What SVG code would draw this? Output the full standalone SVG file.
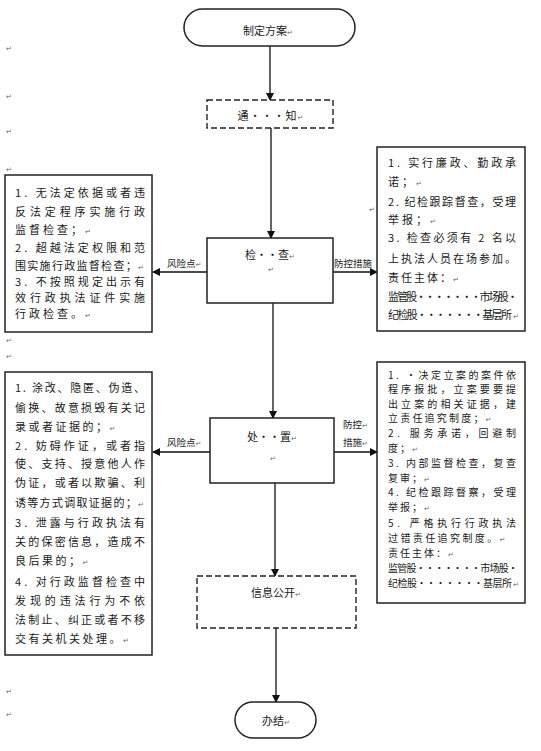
<svg xmlns="http://www.w3.org/2000/svg" width="541" height="751" viewBox="0 0 541 751">
<defs>
<marker id="ah" markerWidth="8" markerHeight="8" refX="7" refY="4" orient="auto" markerUnits="userSpaceOnUse">
<path d="M0,0 L8,4 L0,8 Z" fill="#111"/>
</marker>
<style>
.t{font-family:"Noto Sans CJK SC","Liberation Sans",sans-serif;font-size:11px;fill:#1a1a1a;}
.c{text-anchor:middle;}
.s{font-size:9.5px;}
.r2{font-size:10px;}
.pm{font-family:"DejaVu Sans",sans-serif;font-size:7px;fill:#666;}
.box{fill:#fff;stroke:#222;stroke-width:1.5;}
.dash{fill:#fff;stroke:#222;stroke-width:1.4;stroke-dasharray:6 3;}
.ln{stroke:#111;stroke-width:1.3;fill:none;marker-end:url(#ah);}
</style>
</defs>
<rect width="541" height="751" fill="#fff"/>

<g id="margin-marks" class="pm">
<text x="6" y="51" class="pm">↵</text>
<text x="6" y="99" class="pm">↵</text>
<text x="6" y="134" class="pm">↵</text>
<text x="6" y="172" class="pm">↵</text>
<text x="6" y="343" class="pm">↵</text>
<text x="6" y="359" class="pm">↵</text>
<text x="6" y="694" class="pm">↵</text>
<text x="6" y="717" class="pm">↵</text>
<text x="369" y="212" class="pm">↵</text>
</g>

<g id="connectors">
<line class="ln" x1="270" y1="46" x2="270" y2="100"/>
<line class="ln" x1="271" y1="128" x2="271" y2="238"/>
<line class="ln" x1="273" y1="303" x2="273" y2="418"/>
<line class="ln" x1="275" y1="483" x2="275" y2="576"/>
<line class="ln" x1="276" y1="628" x2="276" y2="702"/>
<line class="ln" x1="207" y1="272" x2="153" y2="272"/>
<line class="ln" x1="333" y1="272" x2="377" y2="272"/>
<line class="ln" x1="210" y1="452" x2="153" y2="452"/>
<line class="ln" x1="334" y1="452" x2="377" y2="452"/>
<text class="t s" x="167" y="267">风险点<tspan class="pm">↵</tspan></text>
<text class="t s" x="334" y="267">防控措施</text>
<text class="t s" x="167" y="446">风险点<tspan class="pm">↵</tspan></text>
<text class="t s" x="343" y="428">防控<tspan class="pm">↵</tspan></text>
<text class="t s" x="343" y="446">措施<tspan class="pm">↵</tspan></text>
</g>

<g id="start">
<rect class="box" x="184" y="9" width="171" height="37" rx="18.5"/>
<text class="t c" x="268" y="35">制定方案<tspan class="pm">↵</tspan></text>
</g>

<g id="notify">
<rect class="dash" x="207" y="100" width="126" height="28"/>
<text class="t c" x="271" y="120" letter-spacing="1">通···知<tspan class="pm">↵</tspan></text>
</g>

<g id="inspect">
<rect class="box" x="207" y="238" width="126" height="65"/>
<text class="t c" x="270" y="259">检··查<tspan class="pm">↵</tspan></text>
<text class="pm" x="268" y="272">↵</text>
</g>

<g id="risk1">
<rect class="box" x="5" y="175" width="147" height="157"/>
<text class="t" x="15" y="197" textLength="130" lengthAdjust="spacing">1. 无法定依据或者违</text>
<text class="t" x="15" y="216" textLength="130" lengthAdjust="spacing">反法定程序实施行政</text>
<text class="t" x="15" y="234" letter-spacing="3">监督检查；<tspan class="pm">↵</tspan></text>
<text class="t" x="15" y="252" textLength="130" lengthAdjust="spacing">2. 超越法定权限和范</text>
<text class="t" x="15" y="270" letter-spacing="1.3">围实施行政监督检查；<tspan class="pm">↵</tspan></text>
<text class="t" x="15" y="286" textLength="130" lengthAdjust="spacing">3. 不按照规定出示有</text>
<text class="t" x="15" y="302" textLength="130" lengthAdjust="spacing">效行政执法证件实施</text>
<text class="t" x="15" y="318" letter-spacing="3">行政检查。<tspan class="pm">↵</tspan></text>
</g>

<g id="control1">
<rect class="box" x="377" y="147" width="148" height="184"/>
<text class="t" x="388" y="167" textLength="128" lengthAdjust="spacing">1. 实行廉政、勤政承</text>
<text class="t" x="388" y="186" letter-spacing="3">诺；<tspan class="pm">↵</tspan></text>
<text class="t" x="388" y="206" textLength="128" lengthAdjust="spacing">2. 纪检跟踪督查，受理</text>
<text class="t" x="388" y="224" letter-spacing="3">举报；<tspan class="pm">↵</tspan></text>
<text class="t" x="388" y="242" textLength="128" lengthAdjust="spacing">3. 检查必须有 2 名以</text>
<text class="t" x="388" y="263" textLength="128" lengthAdjust="spacing">上执法人员在场参加。</text>
<text class="t" x="388" y="282" letter-spacing="2">责任主体：<tspan class="pm">↵</tspan></text>
<text class="t" x="388" y="301" textLength="130" lengthAdjust="spacing">监管股·······市场股·</text>
<text class="t" x="388" y="319" textLength="124" lengthAdjust="spacing">纪检股·······基层所</text>
<text class="pm" x="513" y="319">↵</text>
</g>

<g id="handle">
<rect class="box" x="210" y="418" width="124" height="65"/>
<text class="t c" x="272" y="441">处··置<tspan class="pm">↵</tspan></text>
<text class="pm" x="270" y="461">↵</text>
</g>

<g id="risk2">
<rect class="box" x="5" y="372" width="147" height="283"/>
<text class="t" x="15" y="392" textLength="130" lengthAdjust="spacing">1. 涂改、隐匿、伪造、</text>
<text class="t" x="15" y="412" textLength="130" lengthAdjust="spacing">偷换、故意损毁有关记</text>
<text class="t" x="15" y="431" letter-spacing="2.5">录或者证据的；<tspan class="pm">↵</tspan></text>
<text class="t" x="15" y="450" textLength="130" lengthAdjust="spacing">2. 妨碍作证，或者指</text>
<text class="t" x="15" y="468" textLength="130" lengthAdjust="spacing">使、支持、授意他人作</text>
<text class="t" x="15" y="487" textLength="130" lengthAdjust="spacing">伪证，或者以欺骗、利</text>
<text class="t" x="15" y="507" letter-spacing="1.3">诱等方式调取证据的；<tspan class="pm">↵</tspan></text>
<text class="t" x="15" y="527" textLength="130" lengthAdjust="spacing">3. 泄露与行政执法有</text>
<text class="t" x="15" y="546" textLength="130" lengthAdjust="spacing">关的保密信息，造成不</text>
<text class="t" x="15" y="565" letter-spacing="2.5">良后果的；<tspan class="pm">↵</tspan></text>
<text class="t" x="15" y="586" textLength="130" lengthAdjust="spacing">4. 对行政监督检查中</text>
<text class="t" x="15" y="605" textLength="130" lengthAdjust="spacing">发现的违法行为不依</text>
<text class="t" x="15" y="624" textLength="130" lengthAdjust="spacing">法制止、纠正或者不移</text>
<text class="t" x="15" y="643" letter-spacing="2.5">交有关机关处理。<tspan class="pm">↵</tspan></text>
</g>

<g id="control2">
<rect class="box" x="377" y="362" width="148" height="241"/>
<text class="t r2" x="388" y="379" textLength="128" lengthAdjust="spacing">1. ·决定立案的案件依</text>
<text class="t r2" x="388" y="393" textLength="128" lengthAdjust="spacing">程序报批，立案要要提</text>
<text class="t r2" x="388" y="408" textLength="128" lengthAdjust="spacing">出立案的相关证据，建</text>
<text class="t r2" x="388" y="422" letter-spacing="2.2">立责任追究制度；<tspan class="pm">↵</tspan></text>
<text class="t r2" x="388" y="437" textLength="128" lengthAdjust="spacing">2. 服务承诺，回避制</text>
<text class="t r2" x="388" y="452" letter-spacing="2">度；<tspan class="pm">↵</tspan></text>
<text class="t r2" x="388" y="467" textLength="128" lengthAdjust="spacing">3. 内部监督检查，复查</text>
<text class="t r2" x="388" y="482" letter-spacing="2">复审；<tspan class="pm">↵</tspan></text>
<text class="t r2" x="388" y="496" textLength="128" lengthAdjust="spacing">4. 纪检跟踪督察，受理</text>
<text class="t r2" x="388" y="511" letter-spacing="2">举报；<tspan class="pm">↵</tspan></text>
<text class="t r2" x="388" y="527" textLength="128" lengthAdjust="spacing">5. 严格执行行政执法</text>
<text class="t r2" x="388" y="542" letter-spacing="2.4">过错责任追究制度。<tspan class="pm">↵</tspan></text>
<text class="t r2" x="388" y="557" letter-spacing="2">责任主体：<tspan class="pm">↵</tspan></text>
<text class="t r2" x="388" y="572" textLength="130" lengthAdjust="spacing">监管股·······市场股·</text>
<text class="t r2" x="388" y="587" textLength="124" lengthAdjust="spacing">纪检股·······基层所</text>
<text class="pm" x="513" y="587">↵</text>
</g>

<g id="publish">
<rect class="dash" x="197" y="576" width="159" height="52"/>
<text class="t c" x="276" y="597">信息公开<tspan class="pm">↵</tspan></text>
</g>

<g id="end">
<rect class="box" x="235" y="702" width="81" height="36" rx="18"/>
<text class="t c" x="276" y="725">办结<tspan class="pm">↵</tspan></text>
</g>
</svg>
